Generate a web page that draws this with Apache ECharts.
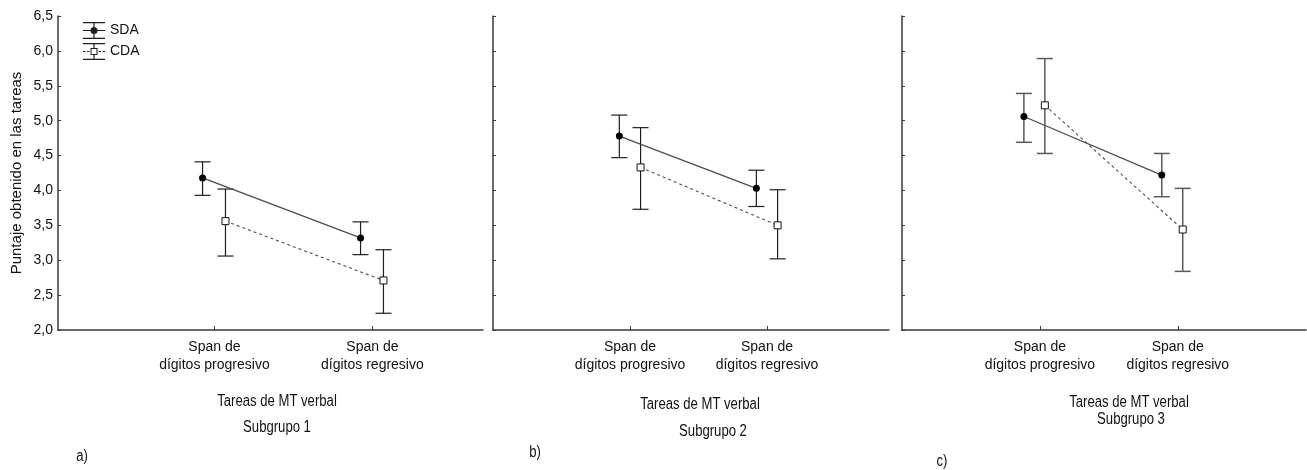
<!DOCTYPE html>
<html>
<head>
<meta charset="utf-8">
<script src="https://cdn.jsdelivr.net/npm/echarts@6/dist/echarts.min.js"></script>
<style>
html,body{margin:0;padding:0;background:#fff;}
#chart{width:1307px;height:470px;}
</style>
</head>
<body>
<div id="chart"></div>
<script>
// ---------- data ----------
const categories = ['Span de\ndígitos progresivo', 'Span de\ndígitos regresivo'];
const categoryPos = [1, 2];
const yTicks = ['2,0', '2,5', '3,0', '3,5', '4,0', '4,5', '5,0', '5,5', '6,0', '6,5'];
const seriesNames = ['SDA', 'CDA'];
const subgroups = ['Subgrupo 1', 'Subgrupo 2', 'Subgrupo 3'];
const panelTags = ['a)', 'b)', 'c)'];
const xAxisTitle = 'Tareas de MT verbal';
const yAxisTitle = 'Puntaje obtenido en las tareas';

// Subgrupo 1
const sdaMean1 = [4.18, 3.32];
const sdaLow1  = [3.93, 3.08];
const sdaHigh1 = [4.41, 3.55];
const cdaMean1 = [3.56, 2.71];
const cdaLow1  = [3.06, 2.24];
const cdaHigh1 = [4.02, 3.15];
// Subgrupo 2
const sdaMean2 = [4.78, 4.03];
const sdaLow2  = [4.47, 3.77];
const sdaHigh2 = [5.08, 4.29];
const cdaMean2 = [4.33, 3.50];
const cdaLow2  = [3.73, 3.02];
const cdaHigh2 = [4.90, 4.01];
// Subgrupo 3
const sdaMean3 = [5.06, 4.22];
const sdaLow3  = [4.69, 3.91];
const sdaHigh3 = [5.39, 4.53];
const cdaMean3 = [5.22, 3.44];
const cdaLow3  = [4.53, 2.84];
const cdaHigh3 = [5.89, 4.03];

// ---------- layout / style ----------
const REG = "'Liberation Sans',Arial,sans-serif";
const panelsData = [
  {sda:[sdaMean1,sdaLow1,sdaHigh1], cda:[cdaMean1,cdaLow1,cdaHigh1]},
  {sda:[sdaMean2,sdaLow2,sdaHigh2], cda:[cdaMean2,cdaLow2,cdaHigh2]},
  {sda:[sdaMean3,sdaLow3,sdaHigh3], cda:[cdaMean3,cdaLow3,cdaHigh3]}
];
const layout = [
  {left:58,  width:425, xmin:0.01, xmax:2.70, dodge:[-0.075, 0.07], bar:'#1e1e1e', bw:1.2, titleX:277, titleY:402, subX:277, subY:428, tagX:82,  tagY:457},
  {left:493, width:396, xmin:0,    xmax:2.89, dodge:[-0.078, 0.077], bar:'#1e1e1e', bw:1.2, titleX:700, titleY:405, subX:713, subY:432, tagX:535, tagY:453},
  {left:902, width:404, xmin:0,    xmax:2.93, dodge:[-0.116, 0.036], bar:'#5a5a5a', bw:1.5, titleX:1129, titleY:403, subX:1131, subY:420, tagX:942, tagY:462}
];
const TOP = 16, HEIGHT = 314;

const grids = [], xAxes = [], yAxes = [], series = [], graphics = [];

function errorSeries(idx, pts, color, lw) {
  return {
    type: 'custom', xAxisIndex: idx, yAxisIndex: idx, z: 1, silent: true,
    data: pts,
    encode: {x: 0, y: [1, 2]},
    renderItem: function (params, api) {
      const x = api.value(0);
      const lo = api.coord([x, api.value(1)]);
      const hi = api.coord([x, api.value(2)]);
      const hw = 8;
      const st = {stroke: color, lineWidth: lw};
      return {type: 'group', children: [
        {type: 'line', shape: {x1: lo[0], y1: lo[1], x2: hi[0], y2: hi[1]}, style: st},
        {type: 'line', shape: {x1: lo[0]-hw, y1: lo[1], x2: lo[0]+hw, y2: lo[1]}, style: st},
        {type: 'line', shape: {x1: hi[0]-hw, y1: hi[1], x2: hi[0]+hw, y2: hi[1]}, style: st}
      ]};
    }
  };
}

function narrowText(text, x, y) {
  return {type: 'text', x: x, y: y, scaleX: 0.82,
    style: {text: text, fill: '#111', font: '16px ' + REG, textAlign: 'center', textVerticalAlign: 'middle'}};
}

layout.forEach(function (L, i) {
  grids.push({left: L.left, top: TOP, width: L.width, height: HEIGHT, containLabel: false, outerBoundsMode: 'none'});
  xAxes.push({
    gridIndex: i, type: 'value', min: L.xmin, max: L.xmax,
    splitLine: {show: false},
    axisLine: {show: true, onZero: false, lineStyle: {color: '#3a3a3a', width: 1.5}},
    axisTick: {show: true, inside: true, length: 4, customValues: categoryPos, lineStyle: {color: '#3a3a3a'}},
    axisLabel: {
      show: true, customValues: categoryPos, margin: 8, lineHeight: 18,
      fontFamily: REG, fontSize: 14, color: '#111',
      formatter: function (v) { const k = categoryPos.indexOf(Math.round(v)); return k >= 0 ? categories[k] : ''; }
    }
  });
  yAxes.push({
    gridIndex: i, type: 'value', min: 2, max: 6.5, interval: 0.5,
    splitLine: {show: false},
    axisLine: {show: true, onZero: false, lineStyle: {color: '#3a3a3a', width: 1.5}},
    axisTick: {show: true, inside: true, length: 3, lineStyle: {color: '#3a3a3a'}},
    axisLabel: {
      show: i === 0, margin: 5, fontFamily: REG, fontSize: 14, color: '#111',
      formatter: function (v) { return yTicks[Math.round((v - 2) / 0.5)]; }
    },
    name: i === 0 ? yAxisTitle : '', nameLocation: 'middle', nameGap: 34,
    nameTextStyle: {fontFamily: REG, fontSize: 15, color: '#111'}
  });

  const P = panelsData[i];
  const sdaPts = categoryPos.map((c, k) => [c + L.dodge[0], P.sda[1][k], P.sda[2][k]]);
  const cdaPts = categoryPos.map((c, k) => [c + L.dodge[1], P.cda[1][k], P.cda[2][k]]);
  series.push(errorSeries(i, sdaPts, L.bar, L.bw));
  series.push(errorSeries(i, cdaPts, L.bar, L.bw));
  series.push({
    name: seriesNames[0], type: 'line', xAxisIndex: i, yAxisIndex: i, z: 3,
    data: categoryPos.map((c, k) => [c + L.dodge[0], P.sda[0][k]]),
    symbol: 'circle', symbolSize: 7, showSymbol: true,
    lineStyle: {color: '#4d4d4d', width: 1.3},
    itemStyle: {color: '#000', borderWidth: 0},
    emphasis: {disabled: true}
  });
  series.push({
    name: seriesNames[1], type: 'line', xAxisIndex: i, yAxisIndex: i, z: 3,
    data: categoryPos.map((c, k) => [c + L.dodge[1], P.cda[0][k]]),
    symbol: 'rect', symbolSize: 7, showSymbol: true,
    lineStyle: {color: '#4d4d4d', width: 1.1, type: [3, 3]},
    itemStyle: {color: '#fff', borderColor: '#111', borderWidth: 1},
    emphasis: {disabled: true}
  });

  graphics.push(narrowText(xAxisTitle, L.titleX, L.titleY));
  graphics.push(narrowText(subgroups[i], L.subX, L.subY));
  graphics.push(narrowText(panelTags[i], L.tagX, L.tagY));
});

// legend icons (error-bar glyphs) in a 22x17 box
const sdaIcon = 'path://M0 0H22V1.2H0Z M0 15.8H22V17H0Z M10.4 0H11.6V17H10.4Z M0 7.9H22V9.1H0Z M14.5 8.5A3.5 3.5 0 1 1 7.5 8.5A3.5 3.5 0 1 1 14.5 8.5Z';
const cdaIcon = 'path://M0 0H22V1.2H0Z M0 15.8H22V17H0Z M10.4 0H11.6V5H10.4Z M10.4 12H11.6V17H10.4Z' +
  ' M0 7.9H2.5V9.1H0Z M4 7.9H6.5V9.1H4Z M15.5 7.9H18V9.1H15.5Z M19.5 7.9H22V9.1H19.5Z' +
  ' M7.5 5H14.5V12H7.5Z M8.5 6V11H13.5V6Z';

const option = {
  backgroundColor: '#fff',
  animation: false,
  grid: grids,
  xAxis: xAxes,
  yAxis: yAxes,
  legend: {
    orient: 'vertical', left: 83, top: 22, padding: 0, itemWidth: 22, itemHeight: 17, itemGap: 4,
    selectedMode: false,
    textStyle: {fontFamily: REG, fontSize: 14, color: '#111'},
    data: [
      {name: seriesNames[0], icon: sdaIcon, itemStyle: {color: '#1e1e1e', borderWidth: 0}},
      {name: seriesNames[1], icon: cdaIcon, itemStyle: {color: '#1e1e1e', borderWidth: 0}}
    ]
  },
  graphic: graphics,
  series: series
};

const chart = echarts.init(document.getElementById('chart'), null, {renderer: 'canvas'});
chart.setOption(option);
</script>
</body>
</html>
